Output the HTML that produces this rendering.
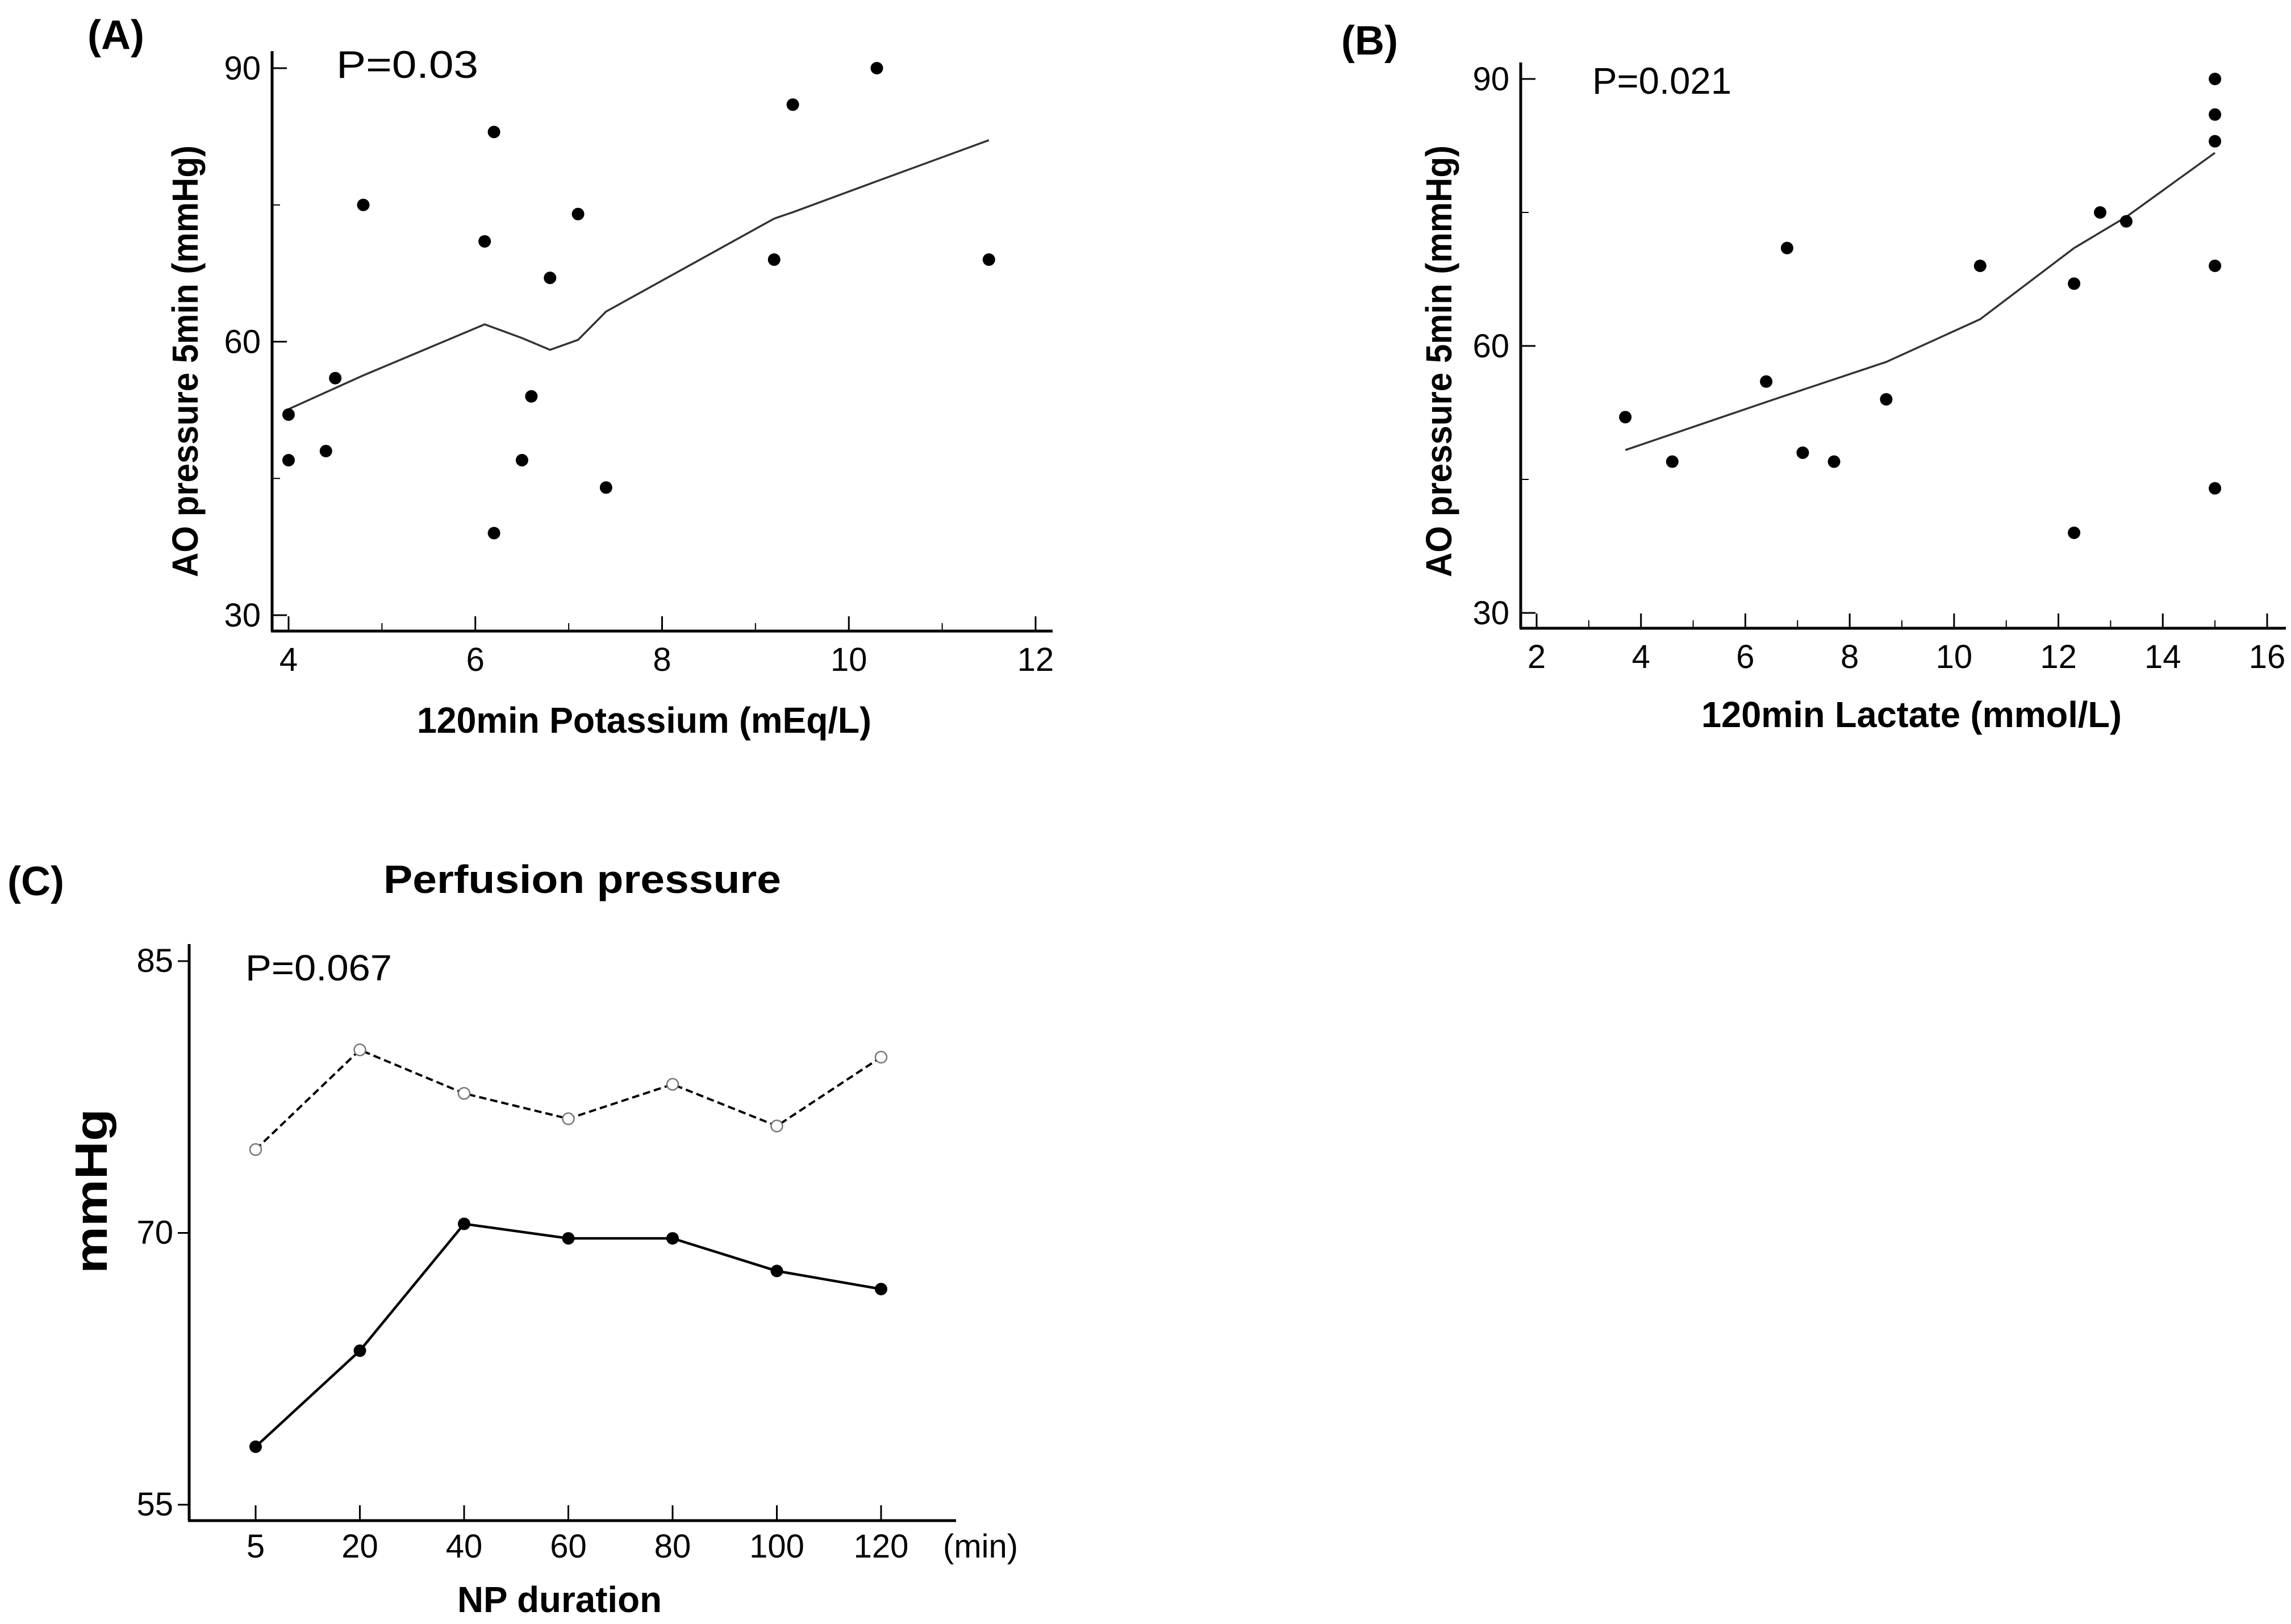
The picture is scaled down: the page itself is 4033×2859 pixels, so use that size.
<!DOCTYPE html>
<html><head><meta charset="utf-8"><style>
html,body{margin:0;padding:0;background:#fff}
svg{display:block}
text{font-family:"Liberation Sans",sans-serif;fill:#000}
.tick{font-family:"Liberation Sans Narrow","Liberation Sans",sans-serif;font-size:58px}
</style></head><body>
<svg id="fig" width="4033" height="2859" viewBox="0 0 4033 2859" xmlns="http://www.w3.org/2000/svg">
<g id="pA"></g>
<g id="pB"></g>
<g id="pC"></g>
</svg>
<script>
// Panel A data
const aX = [4, 4, 4.4, 4.5, 4.8, 6.1, 6.2, 6.2, 6.5, 6.6, 6.8, 7.1, 7.4, 9.2, 9.4, 10.3, 11.5];
const aY = [52, 47, 48, 56, 75, 71, 83, 39, 47, 54, 67, 74, 44, 69, 86, 90, 69];
const aFitX = [4, 4.8, 6.1, 6.5, 6.8, 7.1, 7.4, 9.2, 9.4, 10.3, 11.5];
const aFitY = [52.6, 56.3, 61.9, 60.4, 59.1, 60.2, 63.3, 73.5, 74.2, 77.6, 82.1];
const aXTicks = [4, 6, 8, 10, 12];
const aYTicks = [30, 60, 90];
// Panel B data
const bX = [3.7, 4.6, 6.4, 6.8, 7.1, 7.7, 8.7, 10.5, 12.3, 12.3, 12.8, 13.3, 15, 15, 15, 15, 15];
const bY = [52, 47, 56, 71, 48, 47, 54, 69, 67, 39, 75, 74, 90, 86, 83, 69, 44];
const bFitX = [3.7, 6.5, 8.7, 10.5, 12.3, 13.3, 15];
const bFitY = [48.3, 53.9, 58.2, 63.0, 71.0, 74.5, 81.7];
const bXTicks = [2, 4, 6, 8, 10, 12, 14, 16];
const bYTicks = [30, 60, 90];
// Panel C data
const cCats = ["5", "20", "40", "60", "80", "100", "120"];
const cSolid = [58.2, 63.5, 70.5, 69.7, 69.7, 67.9, 66.9];
const cDashed = [74.6, 80.1, 77.7, 76.3, 78.2, 75.9, 79.7];
const cYTicks = [55, 70, 85];

const NS = "http://www.w3.org/2000/svg";
function mk(parent, tag, attrs, txt) {
  const e = document.createElementNS(NS, tag);
  for (const k in attrs) e.setAttribute(k, attrs[k]);
  if (txt !== undefined) e.textContent = txt;
  parent.appendChild(e);
  return e;
}
function lin(d0, d1, r0, r1) { return v => r0 + (v - d0) / (d1 - d0) * (r1 - r0); }

function scatterPanel(g, cfg) {
  const sx = lin(cfg.xd[0], cfg.xd[1], cfg.xr[0], cfg.xr[1]);
  const sy = lin(cfg.yd[0], cfg.yd[1], cfg.yr[0], cfg.yr[1]);
  let el;
  el = mk(g, "line", {x1: cfg.ax, y1: cfg.top, x2: cfg.ax, y2: cfg.axY, stroke: "#000", "stroke-width": 5});
   
  el = mk(g, "line", {x1: cfg.ax - 2, y1: cfg.axY, x2: cfg.right, y2: cfg.axY, stroke: "#000", "stroke-width": 5});
   
  cfg.yTicks.forEach((t, i) => {
    const y = sy(t);
    el = mk(g, "line", {x1: cfg.ax, y1: y, x2: cfg.ax + 26, y2: y, stroke: "#000", "stroke-width": 3});
     
    el = mk(g, "text", {x: cfg.ax - 20, y: y + 20, "text-anchor": "end", class: "tick"}, String(t));
     
    if (i < cfg.yTicks.length - 1) {
      const m = sy((t + cfg.yTicks[i + 1]) / 2);
      el = mk(g, "line", {x1: cfg.ax, y1: m, x2: cfg.ax + 14, y2: m, stroke: "#000", "stroke-width": 2});
       
    }
  });
  cfg.xTicks.forEach((t, i) => {
    const x = sx(t);
    el = mk(g, "line", {x1: x, y1: cfg.axY, x2: x, y2: cfg.axY - 26, stroke: "#000", "stroke-width": 3});
     
    el = mk(g, "text", {x: x, y: cfg.axY + 70, "text-anchor": "middle", class: "tick"}, String(t));
     
    if (i < cfg.xTicks.length - 1) {
      const m = sx((t + cfg.xTicks[i + 1]) / 2);
      el = mk(g, "line", {x1: m, y1: cfg.axY, x2: m, y2: cfg.axY - 14, stroke: "#000", "stroke-width": 2});
       
    }
  });
  const pts = cfg.fitX.map((v, i) => sx(v).toFixed(1) + "," + sy(cfg.fitY[i]).toFixed(1)).join(" ");
  el = mk(g, "polyline", {points: pts, fill: "none", stroke: "#333", "stroke-width": 3.5});
   
  cfg.x.forEach((v, i) => {
    el = mk(g, "circle", {cx: sx(v), cy: sy(cfg.y[i]), r: 11, fill: "#000"});
     
  });
}

const gA = document.getElementById("pA");
scatterPanel(gA, {xd: [4, 12], xr: [508, 1823], yd: [30, 90], yr: [1083, 120], ax: 479, axY: 1111, top: 90, right: 1853,
  xTicks: aXTicks, yTicks: aYTicks, x: aX, y: aY, fitX: aFitX, fitY: aFitY});
const gB = document.getElementById("pB");
scatterPanel(gB, {xd: [2, 16], xr: [2705, 3991], yd: [30, 90], yr: [1079, 139], ax: 2677, axY: 1106, top: 110, right: 4024,
  xTicks: bXTicks, yTicks: bYTicks, x: bX, y: bY, fitX: bFitX, fitY: bFitY});

let t;
t = mk(gA, "text", {x: 154, y: 86, "font-size": 72, "font-weight": "bold"}, "(A)");
 
t = mk(gA, "text", {x: 592, y: 137, "font-size": 68, textLength: 250, lengthAdjust: "spacingAndGlyphs"}, "P=0.03");
 
t = mk(gA, "text", {x: 0, y: 0, "font-size": 64, "font-weight": "bold", "text-anchor": "middle", textLength: 760, lengthAdjust: "spacingAndGlyphs", transform: "translate(348,636) rotate(-90)"}, "AO pressure 5min (mmHg)");
 
t = mk(gA, "text", {x: 1134, y: 1290, "font-size": 64, "font-weight": "bold", "text-anchor": "middle", textLength: 800, lengthAdjust: "spacingAndGlyphs"}, "120min Potassium (mEq/L)");
 

t = mk(gB, "text", {x: 2361, y: 96, "font-size": 72, "font-weight": "bold"}, "(B)");
 
t = mk(gB, "text", {x: 2803, y: 165, "font-size": 66, textLength: 245, lengthAdjust: "spacingAndGlyphs"}, "P=0.021");
 
t = mk(gB, "text", {x: 0, y: 0, "font-size": 64, "font-weight": "bold", "text-anchor": "middle", textLength: 760, lengthAdjust: "spacingAndGlyphs", transform: "translate(2555,636) rotate(-90)"}, "AO pressure 5min (mmHg)");
 
t = mk(gB, "text", {x: 3365, y: 1280, "font-size": 64, "font-weight": "bold", "text-anchor": "middle", textLength: 740, lengthAdjust: "spacingAndGlyphs"}, "120min Lactate (mmol/L)");
 

// Panel C
const gC = document.getElementById("pC");
const cx0 = 450, cStep = (1551 - 450) / (cCats.length - 1);
const cxs = i => cx0 + i * cStep;
const csy = lin(55, 85, 2649, 1692);
let e;
e = mk(gC, "line", {x1: 333, y1: 1662, x2: 333, y2: 2677, stroke: "#000", "stroke-width": 5});
 
e = mk(gC, "line", {x1: 331, y1: 2677, x2: 1683, y2: 2677, stroke: "#000", "stroke-width": 5});
 
cYTicks.forEach(v => {
  const y = csy(v);
  e = mk(gC, "line", {x1: 333, y1: y, x2: 313, y2: y, stroke: "#000", "stroke-width": 3});
   
  e = mk(gC, "text", {x: 305, y: y + 19, "text-anchor": "end", class: "tick", "font-size": 54}, String(v));
   
});
cCats.forEach((c, i) => {
  const x = cxs(i);
  e = mk(gC, "line", {x1: x, y1: 2677, x2: x, y2: 2650, stroke: "#000", "stroke-width": 3});
   
  e = mk(gC, "text", {x: x, y: 2742, "text-anchor": "middle", class: "tick", "font-size": 60}, c);
   
});
e = mk(gC, "polyline", {points: cDashed.map((v, i) => cxs(i) + "," + csy(v).toFixed(1)).join(" "), fill: "none", stroke: "#000", "stroke-width": 4, "stroke-dasharray": "13 7"});
 
e = mk(gC, "polyline", {points: cSolid.map((v, i) => cxs(i) + "," + csy(v).toFixed(1)).join(" "), fill: "none", stroke: "#000", "stroke-width": 4.5});
 
cDashed.forEach((v, i) => {
  e = mk(gC, "circle", {cx: cxs(i), cy: csy(v), r: 10, fill: "#fff", stroke: "#777", "stroke-width": 2.5});
   
});
cSolid.forEach((v, i) => {
  e = mk(gC, "circle", {cx: cxs(i), cy: csy(v), r: 11, fill: "#000"});
   
});
t = mk(gC, "text", {x: 13, y: 1576, "font-size": 72, "font-weight": "bold"}, "(C)");
 
t = mk(gC, "text", {x: 1025, y: 1572, "font-size": 70, "font-weight": "bold", "text-anchor": "middle", textLength: 700, lengthAdjust: "spacingAndGlyphs"}, "Perfusion pressure");
 
t = mk(gC, "text", {x: 432, y: 1726, "font-size": 64, textLength: 258, lengthAdjust: "spacingAndGlyphs"}, "P=0.067");
 
t = mk(gC, "text", {x: 0, y: 0, "font-size": 80, "font-weight": "bold", "text-anchor": "middle", textLength: 290, lengthAdjust: "spacingAndGlyphs", transform: "translate(188,2097) rotate(-90)"}, "mmHg");
 
t = mk(gC, "text", {x: 1660, y: 2742, "font-size": 60, class: "tick"}, "(min)");
 
t = mk(gC, "text", {x: 985, y: 2838, "font-size": 64, "font-weight": "bold", "text-anchor": "middle", textLength: 360, lengthAdjust: "spacingAndGlyphs"}, "NP duration");
 
</script>
</body></html>
